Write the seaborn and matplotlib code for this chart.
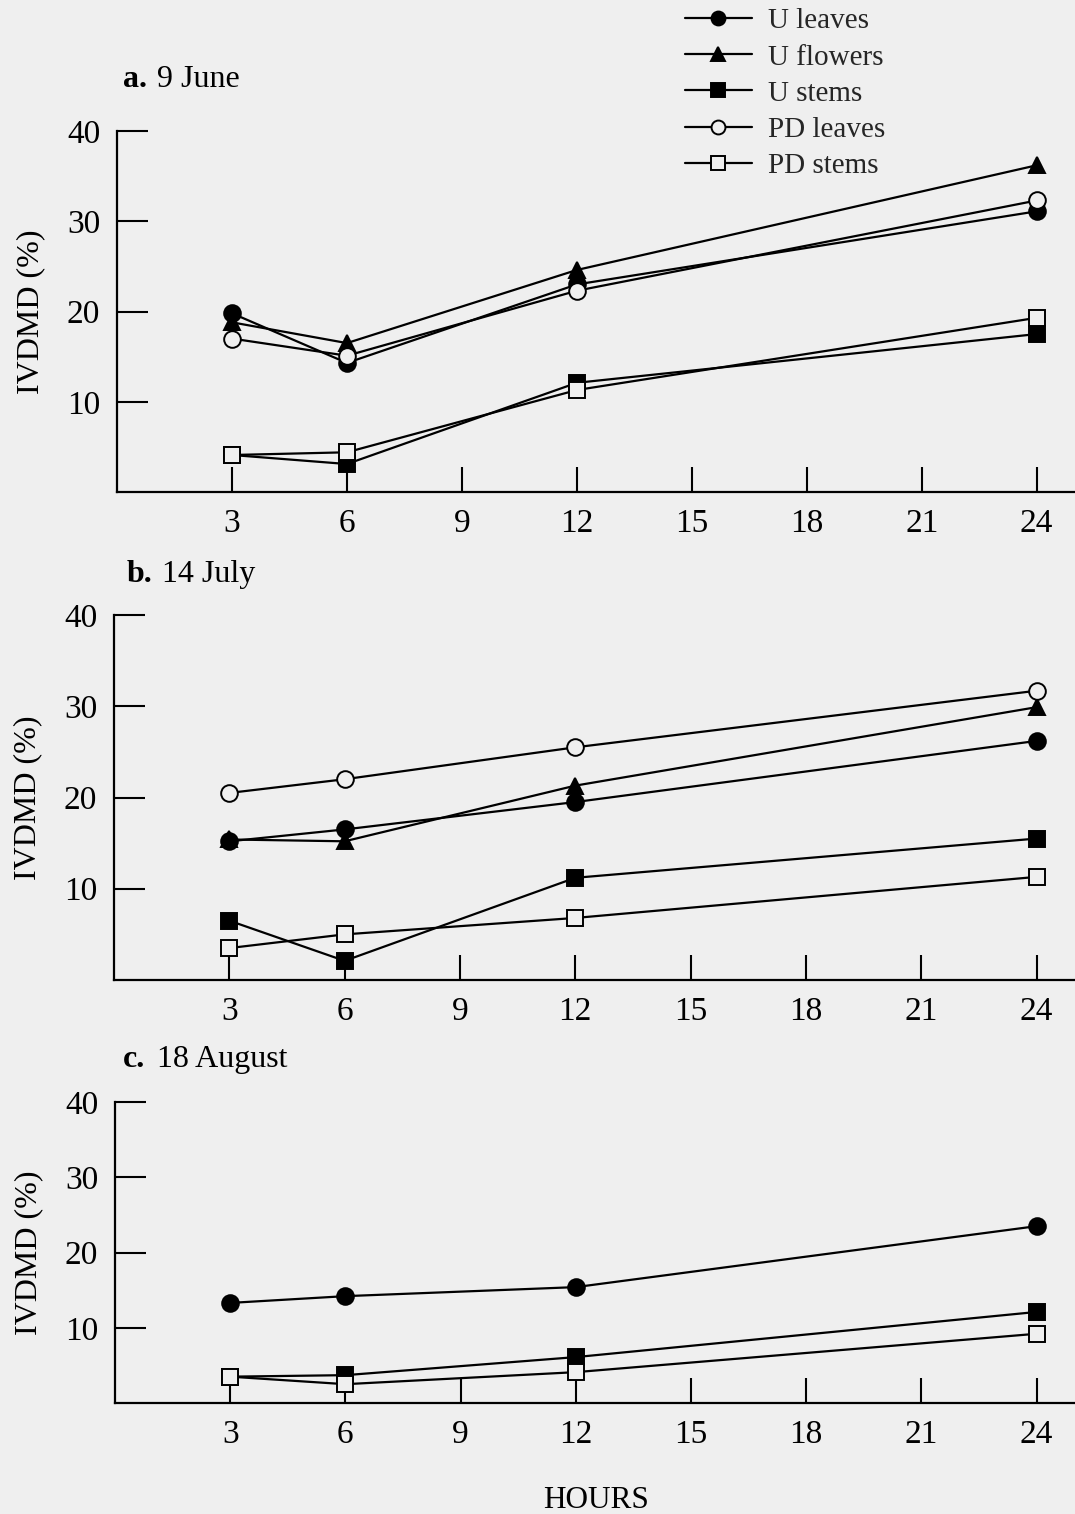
import matplotlib
matplotlib.use("Agg")
import matplotlib.pyplot as plt
import seaborn as sns

# Incubation times (hours)
hours = [3, 6, 12, 24]

# a. 9 June
june_u_leaves = [19.8, 14.3, 23.0, 31.1]
june_u_flowers = [18.8, 16.5, 24.6, 36.2]
june_u_stems = [4.1, 3.1, 12.1, 17.5]
june_pd_leaves = [17.0, 15.1, 22.3, 32.3]
june_pd_stems = [4.1, 4.4, 11.3, 19.3]

# b. 14 July
july_u_leaves = [15.2, 16.5, 19.5, 26.2]
july_u_flowers = [15.4, 15.2, 21.3, 29.9]
july_u_stems = [6.5, 2.1, 11.2, 15.5]
july_pd_leaves = [20.5, 22.0, 25.5, 31.7]
july_pd_stems = [3.5, 5.0, 6.8, 11.3]

# c. 18 August
aug_u_leaves = [13.3, 14.2, 15.4, 23.5]
aug_u_stems = [3.5, 3.7, 6.1, 12.1]
aug_pd_stems = [3.5, 2.5, 4.1, 9.2]

x_ticks = [3, 6, 9, 12, 15, 18, 21, 24]
y_ticks = [10, 20, 30, 40]

BG = "#efefef"
FS_TICK = 24
FS_HEAD = 23
FS_YLAB = 23
FS_XLAB = 22.5
FS_LEG = 21

sns.set_theme(style="white")
plt.rcParams["font.family"] = ["Liberation Serif", "DejaVu Serif"]

styles = {
    "U leaves": dict(marker="o", markersize=12, markerfacecolor="black"),
    "U flowers": dict(marker="^", markersize=12, markerfacecolor="black"),
    "U stems": dict(marker="s", markersize=11, markerfacecolor="black"),
    "PD leaves": dict(marker="o", markersize=12, markerfacecolor=BG),
    "PD stems": dict(marker="s", markersize=11, markerfacecolor=BG),
}

fig = plt.figure(figsize=(10.75, 15.14), dpi=100, facecolor=BG)

W, H = 1075.0, 1514.0


def make_axes(left_px, top_px, bottom_px):
    return fig.add_axes([left_px / W, 1 - bottom_px / H,
                         (W - left_px) / W, (bottom_px - top_px) / H])


panels = [
    (make_axes(117, 131, 492), {
        "U leaves": june_u_leaves, "U flowers": june_u_flowers,
        "U stems": june_u_stems, "PD leaves": june_pd_leaves,
        "PD stems": june_pd_stems}),
    (make_axes(114, 615, 980), {
        "U leaves": july_u_leaves, "U flowers": july_u_flowers,
        "U stems": july_u_stems, "PD leaves": july_pd_leaves,
        "PD stems": july_pd_stems}),
    (make_axes(115, 1102, 1403), {
        "U leaves": aug_u_leaves, "U stems": aug_u_stems,
        "PD stems": aug_pd_stems}),
]

for ax, series in panels:
    ax.set_facecolor(BG)
    for name, vals in series.items():
        sns.lineplot(x=hours, y=vals, ax=ax, color="black", linewidth=1.6,
                     markeredgecolor="black", markeredgewidth=1.4,
                     label=name, **styles[name])
    ax.get_legend().remove()
    ax.set_xlim(0, 25)
    ax.set_ylim(0, 40)
    ax.set_xticks(x_ticks)
    ax.set_yticks(y_ticks)
    ax.tick_params(axis="both", direction="in", colors="black",
                   labelsize=FS_TICK, width=1.5, bottom=True, left=True)
    ax.tick_params(axis="x", length=18, pad=12)
    ax.tick_params(axis="y", length=22, pad=12)
    for s in ["top", "right"]:
        ax.spines[s].set_visible(False)
    for s in ["left", "bottom"]:
        ax.spines[s].set_color("black")
        ax.spines[s].set_linewidth(1.6)
    ax.set_ylabel("IVDMD (%)", fontsize=FS_YLAB, color="black")
    ax.yaxis.set_label_coords(-0.075, 0.5)
    ax.set_xlabel("")

# Panel headings
headings = [("a.", "9 June", 123, 157, 87),
            ("b.", "14 July", 127, 162, 582),
            ("c.", "18 August", 123, 157, 1067)]
for letter, date, xl, xd, yb in headings:
    fig.text(xl / W, 1 - yb / H, letter, fontsize=FS_HEAD, fontweight="bold",
             va="baseline", ha="left", color="black")
    fig.text(xd / W, 1 - yb / H, date, fontsize=FS_HEAD, va="baseline",
             ha="left", color="black")

fig.text(596 / W, 1 - 1508 / H, "HOURS", fontsize=FS_XLAB, ha="center",
         va="baseline", color="black")

handles, labels = panels[0][0].get_legend_handles_labels()
leg = fig.legend(handles, labels, loc="upper left",
                 bbox_to_anchor=(682 / W, 1 - 5 / H), frameon=False,
                 fontsize=FS_LEG, handlelength=2.3, handletextpad=0.55,
                 labelspacing=0.335, borderaxespad=0, borderpad=0.1)
for line in leg.get_lines():
    line.set_markersize(10)

fig.savefig("out.png", dpi=100, facecolor=BG)
